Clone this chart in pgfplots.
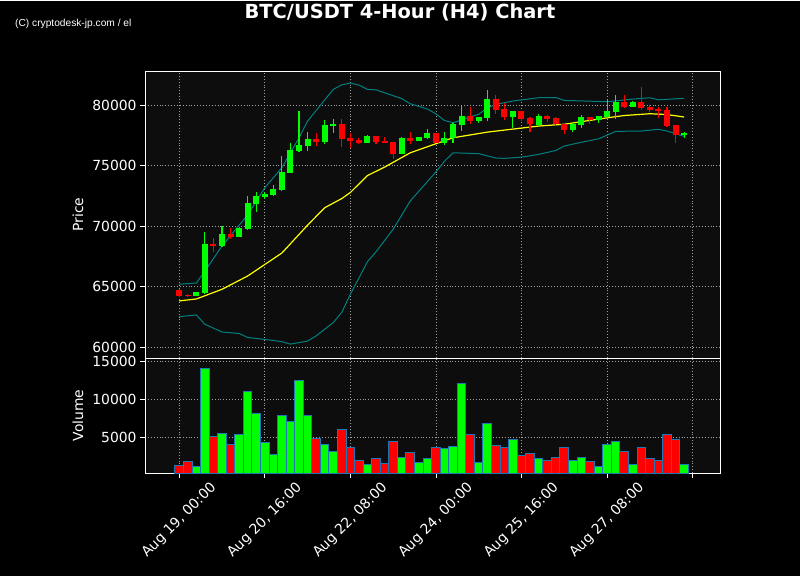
\documentclass[border=0pt]{standalone}
\usepackage{pgfplots}
\pgfplotsset{compat=1.18}
\usepackage{pgfplotstable}
\usepackage{fontspec}
\setmainfont{DejaVu Sans}
\newfontfamily\wmfont{Liberation Sans}
\definecolor{facebg}{RGB}{13,13,13}
\definecolor{upc}{RGB}{0,255,0}
\definecolor{dnc}{RGB}{255,0,0}
\definecolor{bandc}{RGB}{0,128,128}
\definecolor{midc}{RGB}{255,255,0}
\definecolor{gridc}{RGB}{160,160,160}
\definecolor{edgec}{RGB}{31,119,180}

% up (green) candles: index open high low close volume
\pgfplotstableread{
i o h l c v
2 64250 64600 64230 64580 1180
3 64500 69510 64450 68540 14080
5 68400 70000 68300 69370 5525
7 69150 69950 69100 69870 5390
8 69810 72480 69700 71930 11050
9 71900 72810 71190 72480 8160
10 72450 72860 72240 72670 4340
11 72620 73390 72480 73090 2760
12 73030 75790 72950 74490 7890
13 74430 76910 74400 76310 7100
14 76220 79500 76140 76720 12500
15 76660 77820 76200 77210 7890
17 76990 78760 76830 78370 4080
18 78350 78840 77710 78480 3160
22 76910 77520 76880 77460 1450
26 75980 77380 75950 77300 2370
28 77080 77420 77050 77380 1710
29 77320 78040 77190 77710 2240
31 76940 77770 76720 77300 3550
32 77300 78560 76860 78460 3810
33 78400 80000 77850 79120 12100
35 78730 79050 78510 79000 1710
36 78980 81240 78680 80520 6840
39 79030 79560 78100 79530 4740
42 78430 79260 78290 79120 2240
46 77980 78560 77790 78480 1970
47 78400 79200 78120 79030 2370
49 78810 79150 78560 79090 1180
50 79030 80500 78890 79530 4080
51 79450 80830 78890 80250 4470
53 79880 80400 79830 80250 1450
59 77570 77770 77270 77710 1450
}\upT

% down (red) candles
\pgfplotstableread{
i o h l c v
0 64740 64800 64200 64250 1310
1 64350 64420 64200 64280 1840
4 68570 69010 67880 68400 5130
6 69370 69890 68930 69150 4080
16 77210 77690 76610 76990 4870
19 78460 78840 76530 77240 6050
20 77320 77740 76500 77080 3680
21 77130 77320 76830 76910 1970
23 77460 77500 76780 76990 2240
24 77080 77360 76850 76890 1580
25 76970 77000 75540 76000 4470
27 77300 77770 76780 77080 3020
30 77710 77720 76900 76940 3680
34 79090 79860 78430 78730 5390
37 80520 80850 79310 79610 3950
38 79690 80160 78810 79030 3680
40 79530 79560 78700 78890 2630
41 78950 79000 77820 78480 2890
43 79120 79180 78620 78890 1970
44 78950 79060 78290 78480 2370
45 78480 78500 77600 77980 3680
48 79030 79060 78480 78810 1840
52 80250 80830 79750 79880 3160
54 80250 81510 79610 79800 3680
55 79860 80020 79470 79610 2240
56 79690 79860 78980 79550 1970
57 79610 79860 78250 78290 5390
58 78370 78400 76860 77600 4740
}\dnT

\pgfplotstableread{
i u
0 65215
2 65320
3 66310
5 68380
8 70950
10 73190
12 74850
14 77320
15 78700
17 80450
18 81320
19 81700
20 81840
21 81680
22 81320
23 81280
26 80560
27 80130
29 79700
30 79300
31 78750
32 78560
34 79050
35 79260
36 79800
37 80080
39 80360
42 80630
44 80650
45 80410
50 80300
53 80520
55 80630
56 80460
57 80500
59 80580
}\upperT

\pgfplotstableread{
i m
0 63840
2 64000
5 64800
8 65900
12 67800
15 70100
17 71540
19 72300
20 72800
22 74200
24 74900
27 76080
30 76830
32 77320
36 77790
42 78290
45 78440
50 78970
52 79160
55 79310
57 79240
59 79040
}\midT

\pgfplotstableread{
i d
0 62540
2 62680
3 61910
5 61270
7 61150
8 60820
11 60570
12 60470
13 60270
15 60520
16 60950
18 62050
19 62900
20 64390
22 67080
23 67900
25 69760
27 72100
28 72900
30 74500
31 75380
32 76080
35 76010
37 75650
38 75620
40 75720
42 75950
44 76270
45 76640
47 76950
49 77230
51 77850
54 77880
56 78020
57 77880
59 77440
}\lowerT

\pgfplotsset{
  common/.style={
    scale only axis, width=575pt,
    xmin=-4, xmax=63.2,
    axis background/.style={fill=facebg},
    axis line style={white, line width=0.8pt},
    tick style={white, line width=0.8pt},
    tick align=outside, major tick length=4.9pt,
    xtick={0,10,20,30,40,50,60},
    xtick pos=bottom, ytick pos=left,
    grid=major,
    major grid style={gridc, dash pattern=on 0.9pt off 2pt, line width=0.8pt},
    tick label style={font=\fontsize{13.9}{16}\selectfont, text=white},
    scaled y ticks=false,
    yticklabel style={/pgf/number format/fixed, /pgf/number format/set thousands separator={}, /pgf/number format/assume math mode=true},
    ylabel style={at={(axis description cs:-0.1165,0.5)}, anchor=center, text=white, font=\fontsize{13.9}{16}\selectfont},
  },
}

\begin{document}
\begin{tikzpicture}
\fill[black] (0pt,0pt) rectangle (800pt,575pt);
\node[anchor=base, text=white, font=\fontsize{19.4}{22}\selectfont\bfseries] at (400pt,558pt) {BTC/USDT 4-Hour (H4) Chart};
\node[anchor=base west, text=white, inner sep=0pt, font=\wmfont\fontsize{10.2}{12}\selectfont] at (15pt,550pt) {(C) cryptodesk-jp.com / el};

\begin{axis}[common,
  at={(145pt,218pt)}, anchor=south west, height=287pt,
  ymin=59116, ymax=82835,
  ytick={60000,65000,70000,75000,80000},
  xticklabels={}, xtick style={draw=none},
  ylabel={Price},
]
\addplot[bandc, line width=1pt, mark=none] table[x=i,y=u] {\upperT};
\addplot[bandc, line width=1pt, mark=none] table[x=i,y=d] {\lowerT};
\addplot[midc, line width=1.2pt, mark=none] table[x=i,y=m] {\midT};
% wicks
\addplot[draw=none, mark=none, error bars/.cd, y dir=both, y explicit, error mark=none,
  error bar style={draw=upc, line width=1.1pt}]
  table[x=i, y expr=(\thisrow{h}+\thisrow{l})/2, y error expr=(\thisrow{h}-\thisrow{l})/2] {\upT};
\addplot[draw=none, mark=none, error bars/.cd, y dir=both, y explicit, error mark=none,
  error bar style={draw=dnc, line width=1.1pt}]
  table[x=i, y expr=(\thisrow{h}+\thisrow{l})/2, y error expr=(\thisrow{h}-\thisrow{l})/2] {\dnT};
% bodies
\addplot[draw=none, mark=none, error bars/.cd, y dir=both, y explicit, error mark=none,
  error bar style={draw=upc, line width=6pt}]
  table[x=i, y expr=(\thisrow{o}+\thisrow{c})/2, y error expr=abs(\thisrow{c}-\thisrow{o})/2+15] {\upT};
\addplot[draw=none, mark=none, error bars/.cd, y dir=both, y explicit, error mark=none,
  error bar style={draw=dnc, line width=6pt}]
  table[x=i, y expr=(\thisrow{o}+\thisrow{c})/2, y error expr=abs(\thisrow{c}-\thisrow{o})/2+15] {\dnT};
\end{axis}

\begin{axis}[common,
  at={(145pt,103pt)}, anchor=south west, height=115pt,
  ymin=300, ymax=15434,
  ytick={5000,10000,15000},
  xticklabels={{Aug 19, 00:00},{Aug 20, 16:00},{Aug 22, 08:00},{Aug 24, 00:00},{Aug 25, 16:00},{Aug 27, 08:00},{}},
  xticklabel style={xshift=30pt, rotate=45, anchor=north east, inner sep=2pt},
  ylabel={Volume},
]
\addplot[ybar, bar width=1, bar shift=0pt, fill=upc, draw=edgec, line width=1pt] table[x=i,y=v] {\upT};
\addplot[ybar, bar width=1, bar shift=0pt, fill=dnc, draw=edgec, line width=1pt] table[x=i,y=v] {\dnT};
\end{axis}
\end{tikzpicture}
\end{document}
